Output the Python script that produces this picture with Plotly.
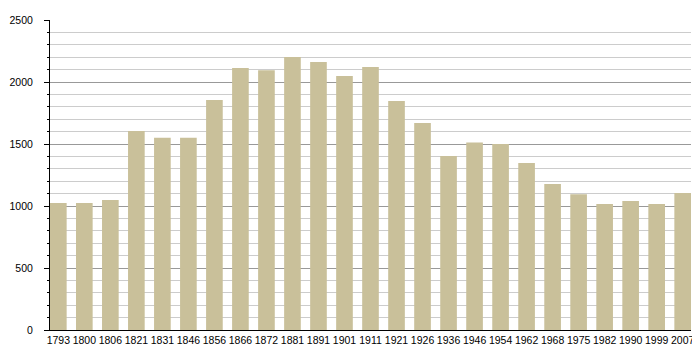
import plotly.graph_objects as go

years = ["1793", "1800", "1806", "1821", "1831", "1846", "1856", "1866", "1872", "1881",
         "1891", "1901", "1911", "1921", "1926", "1936", "1946", "1954", "1962", "1968",
         "1975", "1982", "1990", "1999", "2007"]
population = [1024, 1024, 1048, 1605, 1551, 1551, 1855, 2113, 2094, 2202,
              2161, 2048, 2121, 1847, 1669, 1403, 1513, 1500, 1347, 1177,
              1095, 1016, 1040, 1016, 1105]

bar_width = 0.64

fig = go.Figure(go.Bar(
    x=list(range(len(years))),
    y=population,
    width=bar_width,
    marker=dict(color="#c9c09a", line=dict(width=0)),
    hoverinfo="x+y",
))

# The page body has an 8px margin, so the figure is sized/offset to compensate.
fig.update_layout(
    width=692, height=352,
    margin=dict(l=42, r=9, t=12, b=30, autoexpand=False),
    paper_bgcolor="white", plot_bgcolor="white",
    showlegend=False,
    font=dict(family="Liberation Sans, Arial, sans-serif", size=10.5, color="black"),
    xaxis=dict(
        range=[-bar_width / 2, len(years) - 1 + bar_width / 2],
        tickmode="array",
        tickvals=list(range(len(years))),
        ticktext=years,
        showgrid=False,
        showline=True, linecolor="black", linewidth=1,
        ticks="", zeroline=False,
        tickfont=dict(size=10.5),
        automargin=False,
        fixedrange=True,
    ),
    yaxis=dict(
        range=[0, 2500],
        tickmode="linear", tick0=0, dtick=500,
        showgrid=True, gridcolor="#999999", gridwidth=1,
        showline=True, linecolor="black", linewidth=1,
        ticks="outside", ticklen=5, tickcolor="black", tickwidth=1,
        ticklabelstandoff=9,
        zeroline=False,
        tickfont=dict(size=10.5),
        automargin=False,
        minor=dict(dtick=100, showgrid=True, gridcolor="#cccccc", gridwidth=1,
                   ticks="outside", ticklen=2, tickcolor="black"),
        fixedrange=True,
    ),
)

fig.write_html("out.html")
